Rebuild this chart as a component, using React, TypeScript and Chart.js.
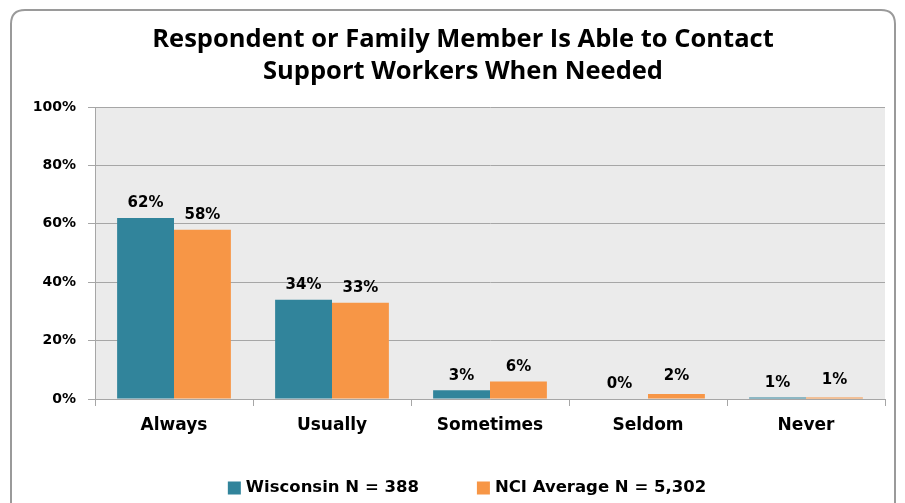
import React, { useEffect, useRef } from "react";
import { Chart, registerables } from "chart.js";

Chart.register(...registerables);

const categories = ["Always", "Usually", "Sometimes", "Seldom", "Never"];
const wisconsin = [62, 34, 3, 0, 0.5];
const nciAverage = [58, 33, 6, 1.7, 0.5];
const seriesNames = ["Wisconsin N = 388", "NCI Average N = 5,302"];
const titleLines = ["Respondent or Family Member Is Able to Contact", "Support Workers When Needed"];
const yTicks = [0, 20, 40, 60, 80, 100];

const TEAL = "#31849b";
const ORANGE = "#f79646";
const LABEL_FONT = "DejaVu Sans";

const framePlugin = {
  id: "frame",
  beforeDraw(chart: any) {
    const { ctx, chartArea } = chart;
    ctx.save();
    ctx.strokeStyle = "#9a9a9a";
    ctx.lineWidth = 2;
    const r = 14;
    const x = 3, y = 2, w = chart.width - 5, h = chart.height + 20;
    ctx.beginPath();
    ctx.moveTo(x + r, y);
    ctx.lineTo(x + w - r, y);
    ctx.quadraticCurveTo(x + w, y, x + w, y + r);
    ctx.lineTo(x + w, y + h);
    ctx.lineTo(x, y + h);
    ctx.lineTo(x, y + r);
    ctx.quadraticCurveTo(x, y, x + r, y);
    ctx.stroke();
    ctx.fillStyle = "#ebebeb";
    ctx.fillRect(chartArea.left, chartArea.top, chartArea.right - chartArea.left, chartArea.bottom - chartArea.top);
    ctx.fillStyle = "#000";
    ctx.font = "bold 25.5px 'Open Sans'";
    ctx.textAlign = "center";
    ctx.textBaseline = "middle";
    const cx = 455;
    ctx.fillText(titleLines[0], cx, 32);
    ctx.fillText(titleLines[1], cx, 64);
    ctx.restore();
  },
  afterDraw(chart: any) {
    const { ctx } = chart;
    ctx.save();
    ctx.font = `bold 16.5px '${LABEL_FONT}'`;
    ctx.textBaseline = "middle";
    ctx.textAlign = "left";
    const colors = [TEAL, ORANGE];
    const box = 13, gapText = 5, gapItem = 58;
    const widths = seriesNames.map((n) => ctx.measureText(n).width);
    const total = widths.reduce((a, w) => a + box + gapText + w, 0) + gapItem;
    let x = 459 - total / 2;
    const y = 480;
    seriesNames.forEach((n, i) => {
      ctx.fillStyle = colors[i];
      ctx.fillRect(x, y - box / 2, box, box);
      ctx.fillStyle = "#000";
      ctx.fillText(n, x + box + gapText, y);
      x += box + gapText + widths[i] + gapItem;
    });
    ctx.restore();
  },
};

const labelsPlugin = {
  id: "barLabels",
  afterDatasetsDraw(chart: any) {
    const { ctx } = chart;
    ctx.save();
    ctx.fillStyle = "#000";
    ctx.font = `bold 15px '${LABEL_FONT}'`;
    ctx.textAlign = "center";
    ctx.textBaseline = "bottom";
    chart.data.datasets.forEach((ds: any, i: number) => {
      const meta = chart.getDatasetMeta(i);
      meta.data.forEach((bar: any, j: number) => {
        const v = Math.round(ds.data[j]);
        const dy = i === 1 && j >= 3 ? 10 : 7;
        ctx.fillText(`${v}%`, bar.x, bar.y - dy);
      });
    });
    ctx.restore();
  },
};

export default function App() {
  const ref = useRef<HTMLCanvasElement>(null);
  useEffect(() => {
    if (!ref.current) return;
    const chart = new Chart(ref.current, {
      type: "bar",
      data: {
        labels: categories,
        datasets: [
          { label: seriesNames[0], data: wisconsin, backgroundColor: TEAL, borderWidth: 0 },
          { label: seriesNames[1], data: nciAverage, backgroundColor: ORANGE, borderWidth: 0 },
        ],
      },
      options: {
        responsive: false,
        animation: false,
        layout: { padding: { top: 99, right: 12, left: 0, bottom: 34 } },
        datasets: { bar: { barPercentage: 1, categoryPercentage: 0.72 } },
        scales: {
          x: {
            grid: { drawOnChartArea: false, drawTicks: true, tickLength: 7, color: "#a6a6a6", offset: true },
            border: { color: "#a6a6a6" },
            ticks: { color: "#000", font: { family: LABEL_FONT, weight: "bold", size: 17 }, padding: 9 },
            afterFit: (s: any) => { s.height = 70; },
          },
          y: {
            min: 0,
            max: 100,
            afterBuildTicks: (s: any) => { s.ticks = yTicks.map((v) => ({ value: v })); },
            grid: { color: "#a6a6a6", tickLength: 7 },
            border: { color: "#a6a6a6" },
            ticks: {
              color: "#000",
              font: { family: LABEL_FONT, weight: "bold", size: 14 },
              padding: 12,
              callback: (v: any) => `${v}%`,
            },
            afterFit: (s: any) => { s.width = 87; },
          },
        },
        plugins: {
          legend: { display: false },
          tooltip: { enabled: false },
          title: { display: false },
        },
      },
      plugins: [framePlugin, labelsPlugin],
    } as any);
    return () => chart.destroy();
  }, []);
  return (
    <div style={{ position: "relative", width: 889, height: 495 }}>
      <canvas ref={ref} width={889} height={495} style={{ display: "block" }} />
    </div>
  );
}
